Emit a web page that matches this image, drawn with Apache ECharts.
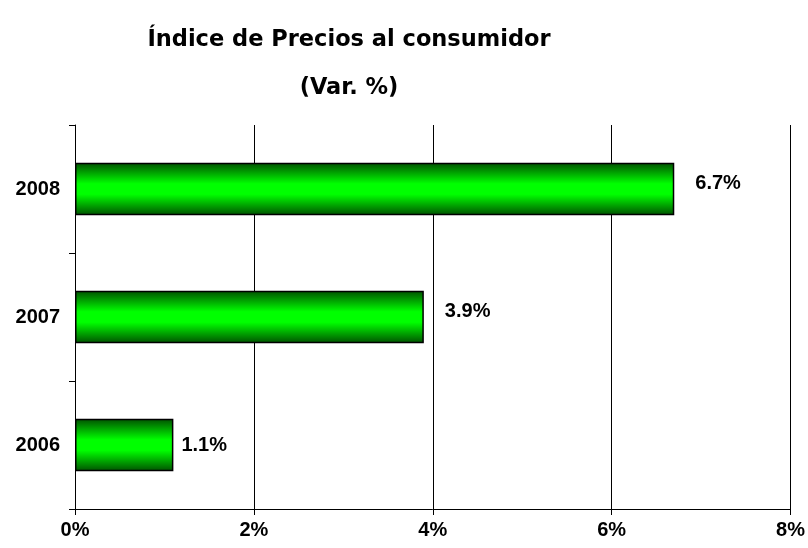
<!DOCTYPE html>
<html>
<head>
<meta charset="utf-8">
<script src="https://cdn.jsdelivr.net/npm/echarts@6/dist/echarts.min.js"></script>
<style>
html, body { margin: 0; padding: 0; background: #fff; }
#chart { width: 808px; height: 548px; }
</style>
</head>
<body>
<div id="chart"></div>
<script>
var years = ['2006', '2007', '2008'];
var values = [1.1, 3.9, 6.7];
var labelOffsets = [[3, 0], [16, -6], [16, -6]];

function drawBargraph(id) {
    var chart = echarts.init(document.getElementById(id));
    var barFill = new echarts.graphic.LinearGradient(0, 0, 0, 1, [
        { offset: 0, color: '#005000' },
        { offset: 0.4, color: '#00ff00' },
        { offset: 0.6, color: '#00ff00' },
        { offset: 1, color: '#005000' }
    ]);
    var data = [];
    for (var i = 0; i < values.length; i++) {
        data.push({
            value: values[i],
            label: { offset: labelOffsets[i] }
        });
    }
    var titleFont = { fontFamily: 'DejaVu Sans', fontWeight: 'bold', fontSize: 22.5, color: '#000' };
    var labelFont = { fontFamily: 'Liberation Sans', fontWeight: 'bold', fontSize: 20, color: '#000' };
    chart.setOption({
        animation: false,
        title: [{
            text: 'Índice de Precios al consumidor',
            left: 344, top: 24, textAlign: 'center',
            textStyle: titleFont
        }, {
            text: '(Var. %)',
            left: 344, top: 72, textAlign: 'center',
            textStyle: titleFont
        }],
        grid: { left: 75, right: 17, top: 125, bottom: 39, containLabel: false },
        xAxis: {
            type: 'value', min: 0, max: 8, interval: 2,
            axisLine: { show: true, lineStyle: { color: '#000', width: 1 } },
            axisTick: { show: true, length: 6, lineStyle: { color: '#000' } },
            splitLine: { show: true, lineStyle: { color: '#000', width: 1 } },
            axisLabel: Object.assign({
                margin: 11,
                formatter: function (v) { return v + '%'; }
            }, labelFont)
        },
        yAxis: {
            type: 'category', data: years,
            axisLine: { show: true, lineStyle: { color: '#000', width: 1 } },
            axisTick: { show: true, length: 6, alignWithLabel: false, lineStyle: { color: '#000' } },
            axisLabel: Object.assign({ margin: 15 }, labelFont)
        },
        series: [{
            type: 'bar',
            data: data,
            barWidth: '41%',
            itemStyle: { color: barFill, borderColor: '#000', borderWidth: 1.5 },
            label: Object.assign({
                show: true, position: 'right',
                formatter: function (p) { return p.value.toFixed(1) + '%'; }
            }, labelFont)
        }]
    });
}

drawBargraph('chart');
</script>
</body>
</html>
